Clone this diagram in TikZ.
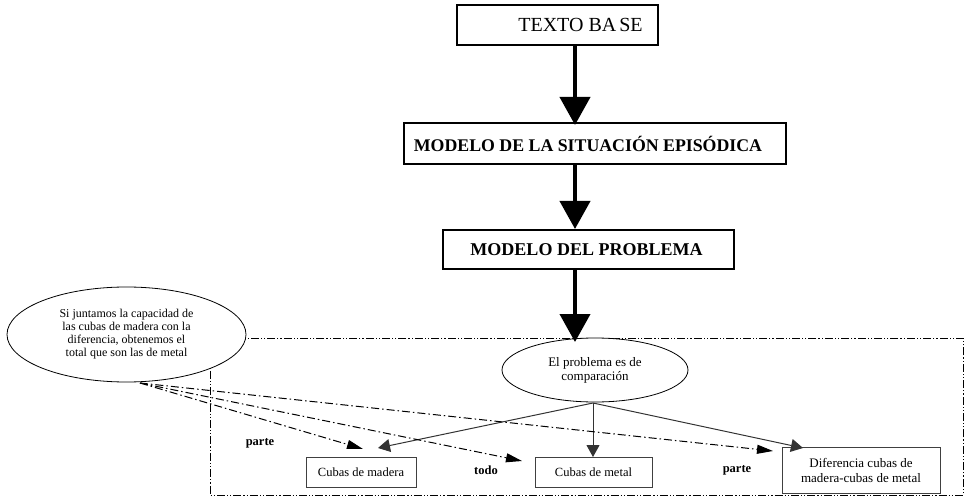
\documentclass[tikz,border=0pt]{standalone}
\usepackage{fontspec}
\setmainfont{Liberation Serif}
\usetikzlibrary{arrows.meta,shapes.geometric}
\begin{document}
\begin{tikzpicture}[x=1pt,y=-1pt,
  topbox/.style={draw=black,line width=2pt,inner sep=0pt,fill=white},
  lowbox/.style={draw=black!75,line width=0.9pt,inner sep=0pt,fill=white,align=center,
    font=\fontsize{12.5}{14.5}\selectfont},
  bigarrow/.style={line width=4pt,-{Triangle[length=28pt,width=30pt]}},
  thinarrow/.style={draw=black!80,line width=1pt,-{Triangle[length=12pt,width=13pt]}},
  dasharrow/.style={line width=1pt,dash pattern=on 8pt off 3pt on 1.5pt off 3pt,
    -{Triangle[length=16pt,width=9pt]}},
  framestyle/.style={line width=0.9pt,dash pattern=on 8pt off 2pt on 1.2pt off 2pt on 1.2pt off 2pt},
  lab/.style={font=\bfseries\fontsize{12.5}{13}\selectfont,inner sep=0pt}]
\useasboundingbox (0,0) rectangle (964,497);

% frame
\draw[framestyle] (210,338) rectangle (963,495);

% top boxes
\node[topbox,minimum width=201pt,minimum height=40pt,font=\fontsize{20}{24}\selectfont]
  (tb) at (557.5,25) {\hspace*{46pt}TEXTO BA\hspace{0.15em}SE};
\node[topbox,minimum width=382pt,minimum height=41pt,font=\bfseries\fontsize{17.8}{20}\selectfont]
  (ms) at (595,143.5) {MODELO DE LA SITUACIÓN EPISÓDICA\hspace*{14pt}};
\node[topbox,minimum width=291pt,minimum height=39pt,font=\bfseries\fontsize{18}{20}\selectfont]
  (mp) at (588.5,249.5) {MODELO DEL PROBLEMA\hspace*{4pt}};

% ellipses
\node[ellipse,draw,line width=0.8pt,fill=white,minimum width=186pt,minimum height=64pt,
  inner sep=0pt,align=center,font=\fontsize{13}{14}\selectfont]
  (cmp) at (595,370) {El problema es de\\comparación};
\node[ellipse,draw,line width=0.8pt,fill=white,minimum width=239pt,minimum height=95pt,
  inner sep=0pt,align=center,font=\fontsize{12}{13}\selectfont]
  (big) at (126.5,334.5) {Si juntamos la capacidad de\\las cubas de madera con la\\diferencia, obtenemos el\\total que son las de metal};

% lower boxes
\node[lowbox,minimum width=110pt,minimum height=30pt] (mad) at (361,472) {Cubas de madera};
\node[lowbox,minimum width=117pt,minimum height=30pt] (met) at (593.5,472) {Cubas de metal};
\node[lowbox,minimum width=158pt,minimum height=46pt,font=\fontsize{13}{15}\selectfont] (dif) at (861,470)
  {Diferencia cubas de\\madera-cubas de metal};

% thick arrows
\coordinate (a1s) at (575,45);
\coordinate (a1e) at (575,125);
\coordinate (a2s) at (575,164);
\coordinate (a2e) at (575,229);
\coordinate (a3s) at (575,269);
\coordinate (a3e) at (575,342);
\draw[bigarrow] (a1s) -- (a1e);
\draw[bigarrow] (a2s) -- (a2e);
\draw[bigarrow] (a3s) -- (a3e);

% thin solid arrows
\coordinate (fork) at (593,403);
\coordinate (tmad) at (378,448);
\coordinate (tmet) at (593,457);
\coordinate (tdif) at (803,448);
\draw[thinarrow] (fork) -- (tmad);
\draw[thinarrow] (fork) -- (tmet);
\draw[thinarrow] (fork) -- (tdif);

% dash-dot arrows
\coordinate (src) at (140,383);
\coordinate (dmad) at (363,449);
\coordinate (dmet) at (522,461);
\coordinate (ddif) at (773,451);
\draw[dasharrow] (src) -- (dmad);
\draw[dasharrow] (src) -- (dmet);
\draw[dasharrow] (src) -- (ddif);

% labels
\node[lab] (l1) at (260,443) {parte};
\node[lab] (l2) at (486,470) {todo};
\node[lab] (l3) at (737,470) {parte};
\end{tikzpicture}
\end{document}
